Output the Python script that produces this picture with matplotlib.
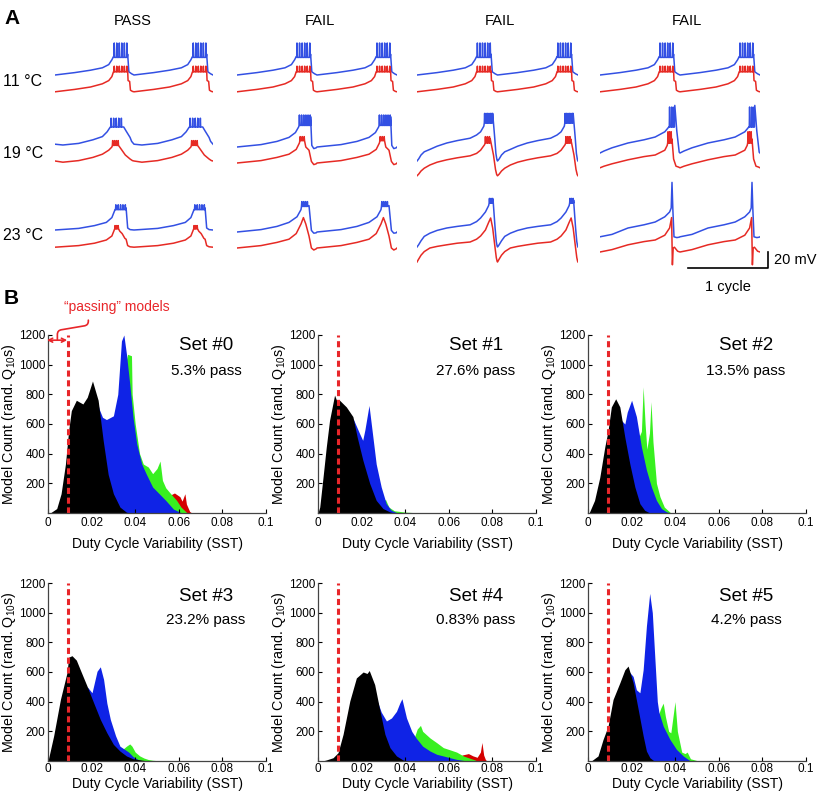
import numpy as np
import matplotlib.pyplot as plt

plt.rcParams['font.family'] = ['Liberation Sans', 'DejaVu Sans']
plt.rcParams['mathtext.fontset'] = 'custom'
plt.rcParams['mathtext.rm'] = 'Liberation Sans'

W, H = 817, 800
TRACE_BLUE = '#3350e3'
TRACE_RED = '#e62a24'
HIST_COLORS = {'red': '#d40000', 'green': '#38f020', 'blue': '#0f23e6', 'black': '#000000'}

# ---------------- panel A data ----------------
col_titles = ['PASS', 'FAIL', 'FAIL', 'FAIL']
temps = ['11 °C', '19 °C', '23 °C']

# one cycle per trace: (phase in cycles, mV vs. row reference)
# spikes: (first spike phase, last spike phase, n spikes, plateau mV, peak mV)
r1_blue = [(0, 0), (0.25, 3), (0.45, 6), (0.6, 9), (0.68, 13), (0.72, 19), (0.74, 23),
           (0.92, 26), (0.935, 4), (0.97, 1.5)]
r1_blue_spk = (0.75, 0.91, 6, 22, 40)
r1_red = [(0, -21), (0.25, -18), (0.45, -15), (0.6, -11), (0.68, -7), (0.72, -2), (0.74, 4),
          (0.92, 5), (0.925, -7), (0.945, -8), (0.955, -19), (0.98, -20.5)]
r1_red_spk = (0.75, 0.91, 6, 4, 11)

r2c1_blue = [(0, 3.5), (0.1, 2.5), (0.3, 4.5), (0.48, 9), (0.6, 13), (0.66, 19), (0.7, 25),
             (0.87, 25), (0.9, 20), (0.95, 12), (0.97, 7)]
r2c1_blue_spk = (0.71, 0.84, 5, 25, 36)
r2c1_red = [(0, -17.5), (0.1, -19), (0.3, -17), (0.48, -13), (0.6, -9), (0.68, -4), (0.72, 0),
            (0.76, 4), (0.8, 3), (0.84, -3), (0.89, -10), (0.95, -15), (0.98, -17)]
r2c1_red_spk = (0.73, 0.8, 4, 2, 8)

r3c1_blue = [(0, 2.5), (0.3, 4.5), (0.5, 8), (0.65, 12), (0.72, 18), (0.76, 28),
             (0.9, 30), (0.92, 5), (0.95, 3)]
r3c1_blue_spk = (0.77, 0.89, 5, 28, 34)
r3c1_red = [(0, -19), (0.3, -17), (0.5, -14), (0.65, -10), (0.72, -5), (0.78, 6), (0.82, 1),
            (0.85, -2), (0.885, -8), (0.9, -9), (0.92, -17), (0.95, -18.5)]
r3c1_red_spk = (0.76, 0.8, 3, 4, 8)

r2c2_blue = [(0, 0), (0.3, 3), (0.5, 7), (0.65, 12), (0.73, 18), (0.77, 25),
             (0.92, 38), (0.935, 2), (0.96, -2), (0.99, -1)]
r2c2_blue_spk = (0.78, 0.915, 6, 27, 40)
r2c2_red = [(0, -20), (0.3, -17), (0.5, -13), (0.65, -9), (0.74, -3), (0.78, 5),
            (0.86, 0), (0.9, -4), (0.93, -18), (0.96, -22), (0.99, -21)]
r2c2_red_spk = (0.79, 0.84, 3, 8, 13)

r3c2_blue = [(0, 0), (0.3, 3), (0.5, 7), (0.65, 12), (0.75, 19), (0.8, 28),
             (0.9, 33), (0.93, 2), (0.96, -1.5), (0.99, -1)]
r3c2_blue_spk = (0.81, 0.88, 4, 32, 38)
r3c2_red = [(0, -20), (0.3, -17), (0.5, -13), (0.65, -9), (0.74, -2), (0.8, 10), (0.83, 18),
            (0.86, 10), (0.9, -5), (0.93, -20), (0.96, -22.5), (0.99, -21)]
r3c2_red_spk = None

r2c3_blue = [(0, -17.5), (0.02, -15), (0.05, -10), (0.09, -6), (0.16, -3), (0.25, 1), (0.37, 5),
             (0.5, 8), (0.66, 11), (0.74, 15), (0.79, 19), (0.83, 26), (0.94, 42), (0.965, 12),
             (0.98, -8), (0.993, -16)]
r2c3_blue_spk = (0.84, 0.93, 6, 30, 42)
r2c3_red = [(0, -36), (0.02, -34), (0.05, -30), (0.09, -26.5), (0.16, -22.5), (0.25, -19),
            (0.37, -16), (0.5, -13.5), (0.66, -11), (0.74, -8), (0.79, -4), (0.84, 3),
            (0.91, 10), (0.95, -10), (0.975, -28), (0.99, -34.5)]
r2c3_red_spk = (0.85, 0.9, 3, 5, 13)

r3c3_blue = [(0, -18.75), (0.02, -16), (0.05, -11), (0.09, -5.5), (0.16, -1.5), (0.25, 2),
             (0.37, 5), (0.5, 7), (0.66, 9), (0.74, 13), (0.79, 17.5), (0.85, 25), (0.89, 33),
             (0.945, 40), (0.97, 5), (0.985, -12), (0.995, -17.5)]
r3c3_blue_spk = (0.9, 0.94, 3, 36, 42)
r3c3_red = [(0, -37.5), (0.02, -34), (0.05, -29), (0.09, -24.5), (0.16, -20), (0.25, -18),
            (0.37, -16), (0.5, -14), (0.66, -12.5), (0.74, -9), (0.79, -5), (0.85, 2.5),
            (0.89, 12), (0.915, 17.5), (0.94, 5), (0.97, -20), (0.985, -32), (0.995, -36.5)]
r3c3_red_spk = None

r2c4_blue = [(0, -7.5), (0.05, -5), (0.15, -1), (0.35, 5), (0.55, 9), (0.69, 12.5), (0.81, 19),
             (0.86, 25), (0.935, 52), (0.96, 20), (0.99, -6.5)]
r2c4_blue_spk = (0.87, 0.925, 3, 25, 50)
r2c4_red = [(0, -26), (0.05, -24), (0.15, -21), (0.35, -16), (0.55, -12), (0.69, -10),
            (0.81, -4), (0.84, 2), (0.9, 10), (0.92, -15), (0.95, -24), (0.98, -25)]
r2c4_red_spk = (0.85, 0.89, 3, 5, 19)

r3c4_blue = [(0, -6), (0.15, -3), (0.35, 5), (0.55, 9), (0.69, 12.5), (0.81, 19), (0.87, 25),
             (0.89, 30), (0.9, 62), (0.91, 30), (0.925, -6), (0.96, -7), (0.99, -6.5)]
r3c4_blue_spk = None
r3c4_red = [(0, -25), (0.15, -22), (0.35, -16), (0.55, -12), (0.69, -10), (0.81, -4),
            (0.87, 5), (0.895, 18), (0.905, -41), (0.915, -20), (0.93, -19), (0.97, -24)]
r3c4_red_spk = None

# grid of traces: rows = temperature, cols = model
trace_grid = [
    [(r1_blue, r1_blue_spk, r1_red, r1_red_spk)] * 4,
    [(r2c1_blue, r2c1_blue_spk, r2c1_red, r2c1_red_spk),
     (r2c2_blue, r2c2_blue_spk, r2c2_red, r2c2_red_spk),
     (r2c3_blue, r2c3_blue_spk, r2c3_red, r2c3_red_spk),
     (r2c4_blue, r2c4_blue_spk, r2c4_red, r2c4_red_spk)],
    [(r3c1_blue, r3c1_blue_spk, r3c1_red, r3c1_red_spk),
     (r3c2_blue, r3c2_blue_spk, r3c2_red, r3c2_red_spk),
     (r3c3_blue, r3c3_blue_spk, r3c3_red, r3c3_red_spk),
     (r3c4_blue, r3c4_blue_spk, r3c4_red, r3c4_red_spk)],
]

# ---------------- panel B data ----------------
set_names = ['Set #0', 'Set #1', 'Set #2', 'Set #3', 'Set #4', 'Set #5']
pass_pct = ['5.3% pass', '27.6% pass', '13.5% pass', '23.2% pass', '0.83% pass', '4.2% pass']
pass_cutoff = 0.0093

# (SST, model count) outline points of each histogram layer
set0_black = [(0.001, 0), (0.004, 30), (0.006, 130), (0.008, 330), (0.0095, 560), (0.0107, 690),
              (0.013, 760), (0.016, 735), (0.018, 780), (0.0204, 890), (0.023, 760),
              (0.0253, 490), (0.0276, 260), (0.030, 130), (0.033, 40), (0.036, 5), (0.038, 0)]
set0_blue = [(0.021, 840), (0.0235, 700), (0.025, 645), (0.0268, 630), (0.030, 655), (0.032, 800),
             (0.0337, 1160), (0.0348, 1200), (0.036, 1070), (0.0375, 870), (0.039, 645),
             (0.0407, 465), (0.043, 330), (0.045, 265), (0.048, 175), (0.051, 130),
             (0.054, 85), (0.0575, 27), (0.0606, 5), (0.062, 0)]
set0_green = [(0.0355, 1000), (0.0365, 1070), (0.0383, 1060), (0.0386, 800), (0.040, 600),
              (0.042, 400), (0.0437, 330), (0.046, 310), (0.048, 265), (0.050, 300),
              (0.0514, 350), (0.0525, 220), (0.054, 170), (0.056, 135), (0.059, 85),
              (0.061, 40), (0.0635, 5), (0.064, 0)]
set0_red = [(0.056, 120), (0.058, 135), (0.0605, 110), (0.0615, 80), (0.0628, 130),
            (0.0635, 60), (0.065, 10), (0.066, 0)]

set1_black = [(0, 0), (0.0008, 40), (0.0023, 240), (0.0038, 445), (0.0053, 625), (0.0076, 795),
              (0.0085, 760), (0.0099, 760), (0.013, 715), (0.016, 650), (0.018, 510),
              (0.0206, 355), (0.0237, 200), (0.0267, 85), (0.0298, 30), (0.033, 7), (0.035, 0)]
set1_blue = [(0.016, 640), (0.0191, 535), (0.0205, 490), (0.0215, 560), (0.0234, 725),
             (0.0252, 510), (0.0267, 330), (0.029, 175), (0.0313, 63), (0.0336, 18),
             (0.036, 3), (0.037, 0)]
set1_green = [(0.028, 150), (0.030, 85), (0.031, 90), (0.0325, 40), (0.035, 15), (0.040, 6),
              (0.045, 2), (0.047, 0)]
set1_red = []

set2_black = [(0.0005, 0), (0.003, 85), (0.0054, 240), (0.0077, 445), (0.0092, 555),
              (0.0107, 715), (0.0127, 770), (0.0146, 715), (0.0169, 510), (0.0192, 330),
              (0.0215, 175), (0.0238, 63), (0.026, 18), (0.028, 3), (0.029, 0)]
set2_blue = [(0.014, 700), (0.0153, 625), (0.0169, 600), (0.018, 680), (0.020, 760),
             (0.0222, 650), (0.0245, 445), (0.0268, 290), (0.0291, 175), (0.0314, 85),
             (0.0337, 30), (0.036, 8), (0.038, 0)]
set2_green = [(0.023, 500), (0.0245, 550), (0.0253, 850), (0.0262, 600), (0.027, 430),
              (0.0282, 540), (0.0289, 750), (0.0298, 480), (0.0314, 200), (0.033, 110),
              (0.035, 40), (0.038, 0)]
set2_red = []

set3_black = [(0, 0), (0.0026, 170), (0.0057, 415), (0.0087, 595), (0.0095, 700), (0.011, 710),
              (0.013, 680), (0.0148, 615), (0.0179, 505), (0.021, 390), (0.024, 280),
              (0.027, 190), (0.030, 112), (0.033, 67), (0.036, 34), (0.039, 15), (0.044, 4),
              (0.046, 0)]
set3_blue = [(0.018, 500), (0.0202, 460), (0.0225, 605), (0.024, 635), (0.0255, 550),
             (0.027, 390), (0.0286, 280), (0.031, 170), (0.033, 100), (0.035, 80), (0.037, 60),
             (0.039, 30), (0.041, 12), (0.043, 0)]
set3_green = [(0.034, 75), (0.036, 100), (0.0375, 115), (0.0385, 100), (0.040, 60),
              (0.042, 35), (0.044, 20), (0.046, 10), (0.048, 5), (0.052, 0)]
set3_red = []

set4_black = [(0.002, 0), (0.0038, 7), (0.0069, 22), (0.0092, 56), (0.0115, 180), (0.0146, 405),
              (0.0176, 560), (0.0207, 600), (0.0225, 590), (0.0235, 610), (0.026, 515),
              (0.0284, 340), (0.0307, 180), (0.033, 90), (0.036, 34), (0.039, 7), (0.041, 0)]
set4_blue = [(0.025, 540), (0.0268, 420), (0.029, 330), (0.0314, 270), (0.0337, 290),
             (0.036, 335), (0.0375, 390), (0.0385, 420), (0.0406, 290), (0.043, 200),
             (0.045, 155), (0.048, 100), (0.0514, 67), (0.0545, 45), (0.0575, 34),
             (0.0606, 22), (0.0636, 11), (0.0667, 4), (0.068, 0)]
set4_green = [(0.044, 150), (0.0455, 215), (0.047, 240), (0.048, 200), (0.0514, 155),
              (0.0545, 123), (0.0575, 90), (0.0606, 75), (0.0636, 60), (0.0667, 34),
              (0.0698, 18), (0.072, 7), (0.073, 0)]
set4_red = [(0.066, 40), (0.069, 50), (0.071, 35), (0.073, 25), (0.0745, 60), (0.0752, 125),
            (0.076, 40), (0.0768, 10), (0.0775, 0)]

set5_black = [(0.0015, 0), (0.0046, 34), (0.0069, 145), (0.0092, 235), (0.0115, 415),
              (0.0146, 527), (0.0169, 615), (0.0184, 640), (0.0207, 527), (0.023, 350),
              (0.0253, 170), (0.0268, 67), (0.0284, 22), (0.030, 4), (0.031, 0)]
set5_blue = [(0.019, 600), (0.0207, 570), (0.0222, 480), (0.0238, 460), (0.0253, 615),
             (0.0268, 910), (0.0283, 1130), (0.0295, 1000), (0.0307, 685), (0.0318, 400),
             (0.0325, 330), (0.0345, 235), (0.0376, 145), (0.0406, 78), (0.0437, 34),
             (0.046, 10), (0.047, 0)]
set5_green = [(0.032, 300), (0.0335, 360), (0.0345, 390), (0.0355, 300), (0.037, 200),
              (0.038, 190), (0.039, 300), (0.0399, 400), (0.041, 200), (0.043, 60),
              (0.0445, 50), (0.0455, 60), (0.047, 15), (0.050, 3), (0.052, 0)]
set5_red = []

hist_sets = [
    (set0_red, set0_green, set0_blue, set0_black),
    (set1_red, set1_green, set1_blue, set1_black),
    (set2_red, set2_green, set2_blue, set2_black),
    (set3_red, set3_green, set3_blue, set3_black),
    (set4_red, set4_green, set4_blue, set4_black),
    (set5_red, set5_green, set5_blue, set5_black),
]


def px_axes(fig, left, top, width, height):
    # place an axes by pixel box (origin top-left)
    return fig.add_axes([left / W, 1 - (top + height) / H, width / W, height / H])


def two_cycles(knots, spikes):
    pts = list(knots)
    if spikes:
        t0, t1, n, lo, hi = spikes
        for t in np.linspace(t0, t1, n):
            pts += [(t - 0.004, lo), (t, hi), (t + 0.004, lo)]
    pts.sort()
    ph = np.array([p[0] for p in pts])
    v = np.array([p[1] for p in pts])
    return np.concatenate([ph, ph + 1, [2.0]]), np.concatenate([v, v, [v[0]]])


fig = plt.figure(figsize=(W / 100, H / 100), dpi=100)

# ---- panel A ----
col_x = [(55, 158), (237, 160), (417, 161), (600, 160)]
col_title_x = [133, 320, 500, 687]
row_span = [(30, 70, 75), (95, 85, 147), (170, 110, 232)]  # top px, height px, reference px
MV_PER_PX = 1.25

last_ax = None
for r in range(3):
    top, hgt, ref = row_span[r]
    for c in range(4):
        ax = px_axes(fig, col_x[c][0], top, col_x[c][1], hgt)
        bk, bs, rk, rs = trace_grid[r][c]
        x, y = two_cycles(bk, bs)
        ax.plot(x, y, color=TRACE_BLUE, lw=1.1, solid_joinstyle='round')
        x, y = two_cycles(rk, rs)
        ax.plot(x, y, color=TRACE_RED, lw=1.1, solid_joinstyle='round')
        ax.set_xlim(0, 2)
        ax.set_ylim((ref - top - hgt) * MV_PER_PX, (ref - top) * MV_PER_PX)
        ax.axis('off')
        last_ax = ax

# scale bar: 1 cycle x 20 mV
last_ax.plot([1.1, 2.1, 2.1], [-45, -45, -25], color='black', lw=1.2, clip_on=False)
last_ax.text(2.17, -35, '20 mV', fontsize=10.5, va='center', ha='left')
last_ax.text(1.6, -60, '1 cycle', fontsize=10.5, va='top', ha='center')

for c, t in enumerate(col_titles):
    fig.text(col_title_x[c] / W, 1 - 21 / H, t, fontsize=10.5, ha='center', va='center')
for r, t in enumerate(temps):
    fig.text(3 / W, 1 - [82, 153, 235][r] / H, t, fontsize=11.5, ha='left', va='center')

fig.text(4 / W, 1 - 18 / H, 'A', fontsize=15, fontweight='bold', ha='left', va='center')
fig.text(4 / W, 1 - 299 / H, 'B', fontsize=15, fontweight='bold', ha='left', va='center')

# ---- panel B ----
b_lefts = [48, 318, 588]
b_tops = [335, 583]
xlabel_drop = [31, 23]   # px from axis to x-label centre, per row
tick_pad = [3, 1.2]
for i, layers in enumerate(hist_sets):
    row = i // 3
    ax = px_axes(fig, b_lefts[i % 3], b_tops[row], 218, 178)
    for name, layer in zip(['red', 'green', 'blue', 'black'], layers):
        if not layer:
            continue
        xs = [p[0] for p in layer]
        ys = [p[1] for p in layer]
        ax.fill_between(xs, ys, color=HIST_COLORS[name], lw=0)
    ax.axvline(pass_cutoff, color='#e8262a', ls=(0, (2.0, 1.2)), lw=2.2)
    ax.set_xlim(0, 0.1)
    ax.set_ylim(0, 1200)
    ax.set_xticks([0, 0.02, 0.04, 0.06, 0.08, 0.1])
    ax.set_xticklabels(['0', '0.02', '0.04', '0.06', '0.08', '0.1'])
    ax.set_yticks([200, 400, 600, 800, 1000, 1200])
    ax.tick_params(direction='in', length=3, width=0.8, labelsize=8.5, pad=2)
    ax.tick_params(axis='x', pad=tick_pad[row])
    for s in ['top', 'right']:
        ax.spines[s].set_visible(False)
    for s in ['left', 'bottom']:
        ax.spines[s].set_color('#444444')
        ax.spines[s].set_linewidth(0.9)
    ax.set_xlabel('Duty Cycle Variability (SST)', fontsize=10, va='center')
    ax.xaxis.set_label_coords(0.5, -xlabel_drop[row] / 178)
    ax.set_ylabel(r'Model Count (rand. Q$_{10}$s)', fontsize=10.3, va='center')
    ax.yaxis.set_label_coords(-39 / 218, 0.5)
    ty = (1130, 960) if row == 0 else (1110, 950)
    ax.text(0.0725, ty[0], set_names[i], fontsize=13.5, ha='center', va='center')
    ax.text(0.0725, ty[1], pass_pct[i], fontsize=11, ha='center', va='center')
    if i == 0:
        ax.annotate('', xy=(-0.0005, 1165), xytext=(0.0088, 1165),
                    arrowprops=dict(arrowstyle='<->', color='#e8262a', lw=1.2,
                                    shrinkA=0, shrinkB=0, mutation_scale=7),
                    annotation_clip=False)
        ax.annotate('', xy=(0.0043, 1170), xytext=(0.0185, 1300),
                    arrowprops=dict(arrowstyle='-', color='#e8262a', lw=1.2,
                                    shrinkA=0, shrinkB=0,
                                    connectionstyle='arc,angleA=-90,armA=5,angleB=90,armB=9,rad=4'),
                    annotation_clip=False)
        ax.text(0.0315, 1390, '\u201cpassing\u201d models', color='#e8262a', fontsize=10,
                ha='center', va='center', clip_on=False)

fig.savefig('out.png', dpi=100)
